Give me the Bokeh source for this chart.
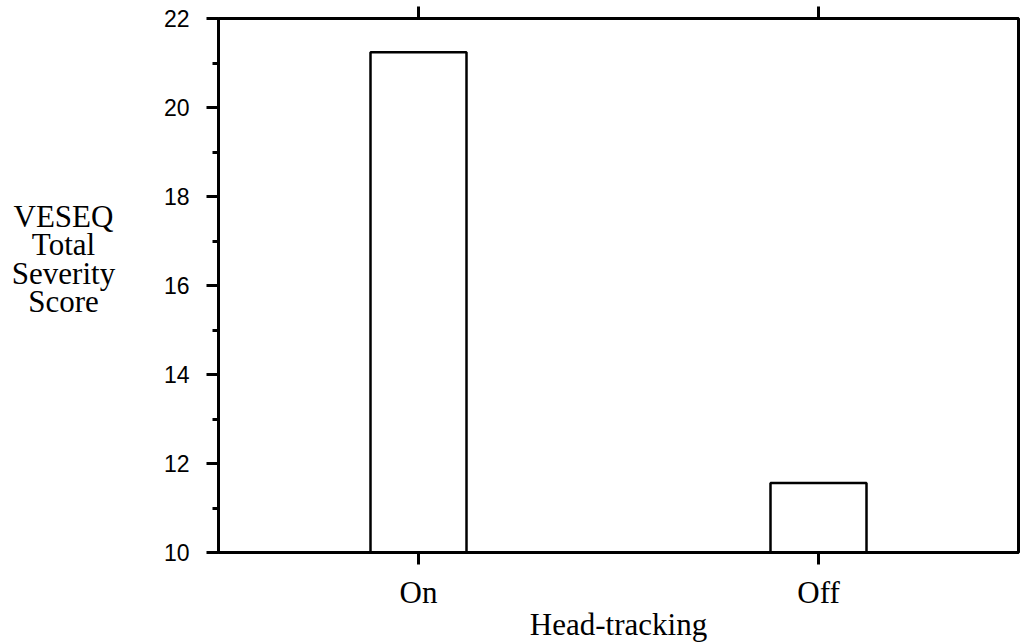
from bokeh.plotting import figure
from bokeh.layouts import row
from bokeh.models import FactorRange, Range1d, CategoricalAxis, LinearAxis, FixedTicker, ColumnDataSource
from bokeh.core.properties import value
from bokeh.embed import file_html
from bokeh.resources import INLINE

categories = ["On", "Off"]
scores = [21.24, 11.56]
y_major = [10, 12, 14, 16, 18, 20, 22]
y_minor = [11, 13, 15, 17, 19, 21]
y_title = "VESEQ\nTotal\nSeverity\nScore"
x_title = "Head-tracking"

src = ColumnDataSource(dict(cat=categories, score=scores))

# left strip holding the horizontal multi-line y title
side = figure(width=130, height=644, output_backend="svg", toolbar_location=None,
              x_range=Range1d(0, 130), y_range=Range1d(0, 644),
              x_axis_location=None, y_axis_location=None,
              min_border=0)
side.grid.visible = False
side.outline_line_color = None
side.background_fill_color = "white"
side.border_fill_color = "white"
side.text(x=[63], y=[354], text=[y_title], text_align="center", text_baseline="middle",
          text_font=value("Liberation Serif"), text_font_size="31px", text_color="black",
          text_line_height=0.81)

p = figure(width=891, height=644, output_backend="svg", toolbar_location=None,
           x_range=FactorRange(*categories), y_range=Range1d(10, 22),
           x_axis_location=None, y_axis_location=None,
           min_border_left=88, min_border_right=3, min_border_top=18, min_border_bottom=91)
p.grid.visible = False
p.outline_line_color = "black"
p.outline_line_width = 3
p.background_fill_color = "white"
p.border_fill_color = "white"

p.vbar(x="cat", top="score", bottom=10, width=0.24, source=src,
       fill_color="white", line_color="black", line_width=2.5)

# left axis
ya = LinearAxis(ticker=FixedTicker(ticks=y_major, minor_ticks=y_minor))
ya.axis_line_width = 3
ya.major_tick_line_width = 3
ya.minor_tick_line_width = 3
ya.major_tick_out = 12
ya.major_tick_in = 0
ya.minor_tick_out = 6
ya.minor_tick_in = 0
ya.major_label_text_font = "Liberation Sans"
ya.major_label_text_font_size = "23px"
ya.major_label_text_color = "black"
ya.major_label_standoff = 17
p.add_layout(ya, "left")

# bottom axis
xa = CategoricalAxis()
xa.axis_line_width = 3
xa.major_tick_line_width = 3
xa.major_tick_out = 12
xa.major_tick_in = 0
xa.minor_tick_out = 0
xa.major_label_text_font = "Liberation Serif"
xa.major_label_text_font_size = "31px"
xa.major_label_text_color = "black"
xa.major_label_standoff = 10
xa.axis_label = x_title
xa.axis_label_text_font = "Liberation Serif"
xa.axis_label_text_font_size = "31px"
xa.axis_label_text_font_style = "normal"
xa.axis_label_text_color = "black"
xa.axis_label_standoff = -6
p.add_layout(xa, "below")

# top axis (ticks only)
ta = CategoricalAxis()
ta.axis_line_width = 3
ta.major_tick_line_width = 3
ta.major_tick_out = 12
ta.major_tick_in = 0
ta.minor_tick_out = 0
ta.major_label_text_font_size = "0px"
ta.major_label_text_color = None
p.add_layout(ta, "above")

layout = row(side, p, spacing=0)
open("out.html", "w").write(file_html(layout, INLINE))
